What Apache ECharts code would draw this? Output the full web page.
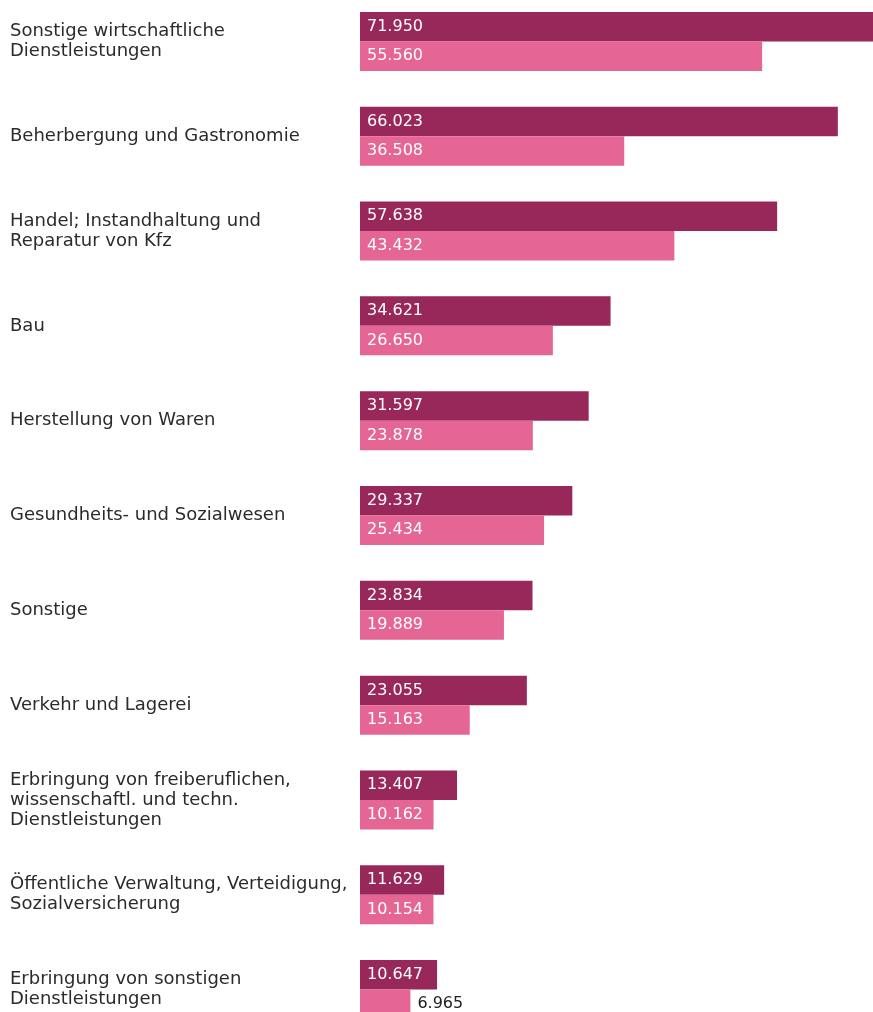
<!DOCTYPE html>
<html>
<head>
<meta charset="utf-8">
<script src="https://cdn.jsdelivr.net/npm/echarts@6/dist/echarts.min.js"></script>
<style>
  html, body { margin: 0; padding: 0; background: #fff; }
  #chart { width: 873px; height: 1012px; }
</style>
</head>
<body>
<div id="chart"></div>
<script>
// Branches (Wirtschaftszweige), top to bottom
const categories = [
  'Sonstige wirtschaftliche\nDienstleistungen',
  'Beherbergung und Gastronomie',
  'Handel; Instandhaltung und\nReparatur von Kfz',
  'Bau',
  'Herstellung von Waren',
  'Gesundheits- und Sozialwesen',
  'Sonstige',
  'Verkehr und Lagerei',
  'Erbringung von freiberuflichen,\nwissenschaftl. und techn.\nDienstleistungen',
  'Öffentliche Verwaltung, Verteidigung,\nSozialversicherung',
  'Erbringung von sonstigen\nDienstleistungen'
];
const seriesA = [71950, 66023, 57638, 34621, 31597, 29337, 23834, 23055, 13407, 11629, 10647];
const seriesB = [55560, 36508, 43432, 26650, 23878, 25434, 19889, 15163, 10162, 10154, 6965];

const DARK = '#99285a';
const LIGHT = '#e56694';
const FONT = '"DejaVu Sans", "Noto Sans", sans-serif';

// German thousands separator
function fmt(v) {
  return String(v).replace(/\B(?=(\d{3})+(?!\d))/g, '.');
}

// Short bars get their label outside to the right
function labelled(values) {
  return values.map(v => {
    if (v < 8000) {
      return { value: v, label: { position: 'right', distance: 7, color: '#222' } };
    }
    return v;
  });
}

const chart = echarts.init(document.getElementById('chart'), null, { renderer: 'canvas' });
chart.setOption({
  animation: false,
  backgroundColor: '#ffffff',
  grid: {
    left: 360, top: -6, width: 579, height: 1043,
    containLabel: false, outerBoundsMode: 'none'
  },
  xAxis: {
    type: 'value', min: 0, max: 80000,
    show: false
  },
  yAxis: {
    type: 'category', data: categories, inverse: true,
    axisLine: { show: false }, axisTick: { show: false },
    axisLabel: {
      align: 'left', margin: 350,
      fontFamily: FONT, fontSize: 18, lineHeight: 20, color: '#2b2b2b'
    }
  },
  series: [
    {
      type: 'bar', data: seriesA, barWidth: 29.5, barGap: '0%',
      itemStyle: { color: DARK },
      label: {
        show: true, position: 'insideLeft', distance: 7,
        color: '#fff', fontFamily: FONT, fontSize: 16,
        formatter: p => fmt(p.value)
      }
    },
    {
      type: 'bar', data: labelled(seriesB), barWidth: 29.5, barGap: '0%',
      itemStyle: { color: LIGHT },
      label: {
        show: true, position: 'insideLeft', distance: 7,
        color: '#fff', fontFamily: FONT, fontSize: 16,
        formatter: p => fmt(p.value)
      }
    }
  ]
});
</script>
</body>
</html>
